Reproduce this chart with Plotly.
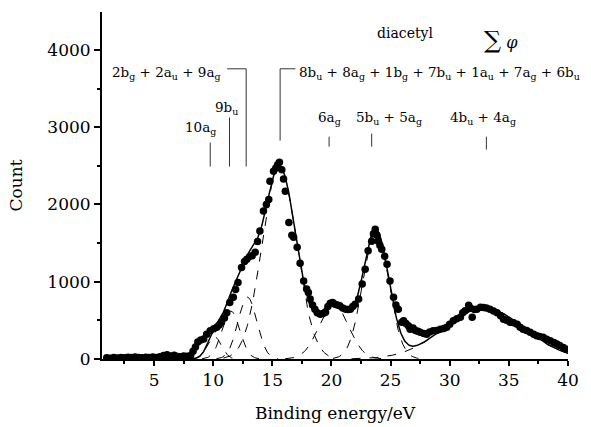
import numpy as np
import plotly.graph_objects as go

# ---- data ----
energy = [1.0, 1.3, 1.6, 1.9, 2.2, 2.5, 2.8, 3.1, 3.4, 3.7, 4.0, 4.3, 4.6, 4.9, 5.2, 5.5, 5.8, 6.1, 6.4, 6.7,
          6.9, 7.2, 7.5, 7.8, 8.1, 8.3, 8.5, 8.7, 8.95, 9.2, 9.45, 9.75, 10.05, 10.3, 10.5, 10.7, 10.95, 11.15, 11.4, 11.7,
          11.9, 12.1, 12.4, 12.65, 12.85, 13.1, 13.3, 13.55, 13.75, 13.95, 14.25, 14.5, 14.7, 14.8, 15.1, 15.3, 15.45, 15.6, 15.8, 15.95,
          16.1, 16.4, 16.65, 16.8, 17.1, 17.35, 17.65, 17.9, 18.05, 18.2, 18.4, 18.6, 18.8, 19.05, 19.3, 19.5, 19.7, 19.9, 20.1, 20.3,
          20.5, 20.7, 20.95, 21.2, 21.4, 21.6, 21.8, 22.0, 22.3, 22.6, 22.85, 23.1, 23.4, 23.55, 23.7, 23.85, 23.95, 24.1, 24.25, 24.5,
          24.7, 24.95, 25.25, 25.45, 25.65, 25.95, 26.1, 26.3, 26.5, 26.65, 26.9, 27.1, 27.3, 27.5, 27.8, 28.05, 28.3, 28.6, 28.9, 29.2,
          29.5, 29.75, 30.0, 30.3, 30.6, 30.9, 31.1, 31.3, 31.6, 31.75, 31.9, 32.1, 32.3, 32.6, 32.85, 33.1, 33.4, 33.7, 34.0, 34.3,
          34.55, 34.8, 35.1, 35.4, 35.7, 35.95, 36.2, 36.5, 36.8, 37.1, 37.35, 37.6, 37.9, 38.2, 38.5, 38.8, 39.05, 39.3, 39.6, 39.8]
counts = [15, 10, 18, 12, 20, 15, 22, 18, 25, 20, 15, 22, 18, 25, 20, 30, 45, 55, 40, 50,
          35, 30, 40, 35, 45, 100, 155, 220, 245, 260, 320, 365, 390, 410, 440, 475, 530, 600, 730, 800,
          900, 990, 1185, 1260, 1290, 1330, 1335, 1380, 1520, 1655, 1915, 2000, 2065, 2300, 2430, 2470, 2515, 2545, 2450, 2330,
          2170, 1765, 1600, 1575, 1445, 1240, 1010, 905, 860, 775, 700, 645, 600, 580, 590, 605, 680, 720, 730, 710,
          700, 690, 660, 645, 640, 645, 680, 710, 775, 970, 1160, 1400, 1525, 1620, 1680, 1600, 1525, 1470, 1420, 1330,
          1225, 1010, 800, 700, 645, 475, 495, 460, 430, 385, 400, 370, 360, 345, 330, 320, 350, 365, 370, 385,
          395, 410, 450, 495, 520, 540, 600, 625, 695, 660, 540, 640, 645, 670, 665, 660, 645, 620, 600, 560,
          515, 500, 475, 470, 450, 410, 385, 370, 345, 320, 300, 290, 280, 255, 235, 215, 195, 175, 150, 130]

# Gaussian fit components (centre eV, height, width eV)
comp_centers = [10.1, 11.5, 12.9, 15.6, 20.2, 23.75, 32.9]
comp_heights = [290, 620, 800, 2490, 700, 1650, 660]
comp_sigmas = [0.6, 0.75, 0.8, 1.45, 1.25, 1.1, 3.4]

# assignment labels
lab_texts = ["10a<sub>g</sub>", "9b<sub>u</sub>", "6a<sub>g</sub>",
             "5b<sub>u</sub> + 5a<sub>g</sub>", "4b<sub>u</sub> + 4a<sub>g</sub>"]
lab_x = [8.9, 11.1, 19.85, 24.9, 32.8]
lab_y = [2994, 3252, 3123, 3123, 3123]

FONT = "DejaVu Serif"

fig = go.Figure()

E = np.linspace(1.0, 40.0, 800)
total = np.zeros_like(E)
for c, h, s in zip(comp_centers, comp_heights, comp_sigmas):
    g = h * np.exp(-(E - c) ** 2 / (2 * s ** 2))
    total += g
    m = np.abs(E - c) <= 3.3 * s
    fig.add_trace(go.Scatter(x=E[m], y=g[m], mode="lines",
                             line=dict(color="black", width=1, dash="dash"),
                             showlegend=False, hoverinfo="skip"))

fig.add_trace(go.Scatter(x=E, y=total, mode="lines",
                         line=dict(color="black", width=1.5),
                         showlegend=False))
fig.add_trace(go.Scatter(x=energy, y=counts, mode="markers",
                         marker=dict(color="black", size=7.5),
                         showlegend=False))

# leader lines for labels
line_style = dict(color="#333", width=1)
shapes = [
    dict(type="line", x0=9.75, x1=9.75, y0=2800, y1=2490),
    dict(type="line", x0=11.38, x1=11.38, y0=3123, y1=2490),
    dict(type="line", x0=11.18, x1=12.79, y0=3755, y1=3755),
    dict(type="line", x0=12.79, x1=12.79, y0=3755, y1=2490),
    dict(type="line", x0=15.66, x1=16.95, y0=3755, y1=3755),
    dict(type="line", x0=15.66, x1=15.66, y0=3755, y1=2826),
    dict(type="line", x0=19.8, x1=19.8, y0=2877, y1=2748),
    dict(type="line", x0=23.4, x1=23.4, y0=2916, y1=2748),
    dict(type="line", x0=33.1, x1=33.1, y0=2877, y1=2710),
]
for sh in shapes:
    sh.update(xref="x", yref="y", line=line_style, layer="above")
    fig.add_shape(**sh)

afont = dict(family=FONT, size=13.5, color="black")
for t, x, y in zip(lab_texts, lab_x, lab_y):
    fig.add_annotation(x=x, y=y, xref="x", yref="y", text=t, showarrow=False,
                       font=afont, xanchor="center", yanchor="middle")
fig.add_annotation(x=10.85, y=3703, xref="x", yref="y",
                   text="2b<sub>g</sub> + 2a<sub>u</sub> + 9a<sub>g</sub>",
                   showarrow=False, font=afont, xanchor="right", yanchor="middle")
fig.add_annotation(x=17.05, y=3703, xref="x", yref="y",
                   text="8b<sub>u</sub> + 8a<sub>g</sub> + 1b<sub>g</sub> + 7b<sub>u</sub> + 1a<sub>u</sub> + 7a<sub>g</sub> + 6b<sub>u</sub>",
                   showarrow=False, font=afont, xanchor="left", yanchor="middle")
fig.add_annotation(x=26.2, y=4219, xref="x", yref="y", text="diacetyl",
                   showarrow=False, font=dict(family=FONT, size=14, color="black"))
fig.add_annotation(x=34.3, y=4129, xref="x", yref="y",
                   text="<span style='font-size:24px'>∑</span> <i>φ</i>",
                   showarrow=False, font=dict(family=FONT, size=16, color="black"))

fig.update_layout(
    width=591, height=427,
    margin=dict(l=102, r=23, t=12, b=68),
    plot_bgcolor="white", paper_bgcolor="white",
    font=dict(family=FONT, size=17, color="black"),
    showlegend=False,
)
fig.update_xaxes(range=[0.6, 40], tickvals=[5, 10, 15, 20, 25, 30, 35, 40],
                 automargin=False,
                 showgrid=False, zeroline=False, showline=True, linecolor="black", linewidth=2,
                 ticks="outside", ticklen=5, tickwidth=1.5, tickcolor="black",
                 minor=dict(tick0=0, dtick=2.5, ticks="outside", ticklen=3, tickcolor="black"),
                 title=dict(text="Binding energy/eV", standoff=18, font=dict(size=17)),
                 tickfont=dict(size=17))
fig.update_yaxes(range=[0, 4490], tickvals=[0, 1000, 2000, 3000, 4000],
                 automargin=False,
                 showgrid=False, zeroline=False, showline=True, linecolor="black", linewidth=2,
                 ticks="outside", ticklen=6, tickwidth=1.5, tickcolor="black",
                 minor=dict(tick0=0, dtick=500, ticks="outside", ticklen=3, tickcolor="black"),
                 title=dict(text="Count", standoff=20, font=dict(size=17)),
                 tickfont=dict(size=17))

fig.write_html("out.html", config={"displayModeBar": False},
               post_script="document.body.style.margin='0px';")
